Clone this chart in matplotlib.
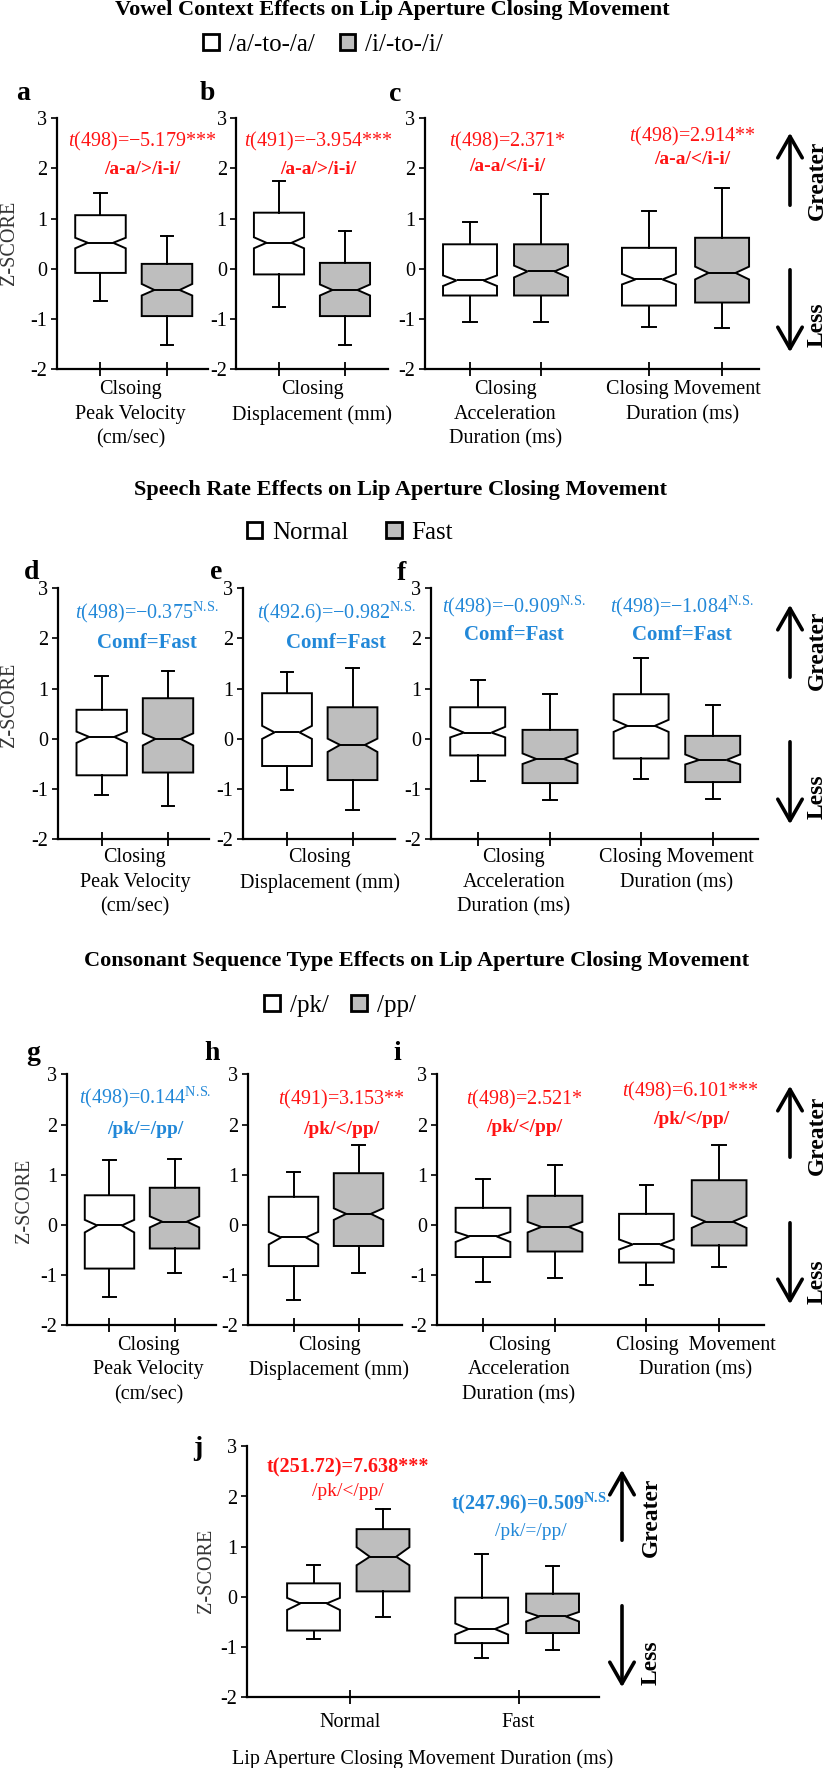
import matplotlib
matplotlib.use("Agg")
import matplotlib.pyplot as plt
from matplotlib.patches import Patch

plt.rcParams['font.family'] = ['Liberation Serif', 'DejaVu Serif']
plt.rcParams['mathtext.fontset'] = 'custom'
plt.rcParams['mathtext.rm'] = 'Liberation Serif'
plt.rcParams['mathtext.it'] = 'Liberation Serif:italic'
plt.rcParams['mathtext.bf'] = 'Liberation Serif:bold'
plt.rcParams['axes.unicode_minus'] = False

W, H = 827, 1768
RED = '#ff1414'
BLUE = '#2288d8'
GREY = '#bebebe'

# box stats (z-scores):
# whisker low, Q1, notch low, median, notch high, Q3, whisker high
a_box = [[-0.63, -0.08, 0.41, 0.52, 0.62, 1.07, 1.51],
         [-1.52, -0.94, -0.53, -0.42, -0.30, 0.10, 0.65]]
b_box = [[-0.76, -0.11, 0.41, 0.52, 0.63, 1.12, 1.75],
         [-1.52, -0.94, -0.53, -0.42, -0.31, 0.12, 0.76]]
c_box = [[-1.06, -0.53, -0.34, -0.23, -0.13, 0.49, 0.93],
         [-1.06, -0.53, -0.17, -0.05, 0.065, 0.49, 1.49],
         [-1.15, -0.73, -0.31, -0.21, -0.10, 0.42, 1.15],
         [-1.18, -0.67, -0.21, -0.08, 0.045, 0.62, 1.62]]
d_box = [[-1.12, -0.725, -0.08, 0.04, 0.145, 0.58, 1.25],
         [-1.33, -0.67, -0.13, 0.0, 0.11, 0.81, 1.36]]
e_box = [[-1.02, -0.54, 0.0, 0.13, 0.26, 0.91, 1.33],
         [-1.42, -0.82, -0.26, -0.12, 0.005, 0.63, 1.41]]
f_box = [[-0.83, -0.33, 0.03, 0.125, 0.24, 0.63, 1.18],
         [-1.22, -0.88, -0.50, -0.40, -0.29, 0.18, 0.89],
         [-0.80, -0.39, 0.14, 0.26, 0.38, 0.89, 1.62],
         [-1.20, -0.86, -0.51, -0.42, -0.31, 0.06, 0.68]]
g_box = [[-1.44, -0.87, -0.15, -0.01, 0.10, 0.59, 1.29],
         [-0.95, -0.47, -0.05, 0.065, 0.17, 0.74, 1.31]]
h_box = [[-1.50, -0.82, -0.39, -0.25, -0.14, 0.56, 1.05],
         [-0.95, -0.42, 0.10, 0.22, 0.33, 1.03, 1.60]]
i_box = [[-1.14, -0.64, -0.34, -0.23, -0.14, 0.34, 0.92],
         [-1.06, -0.53, -0.15, -0.04, 0.06, 0.58, 1.19],
         [-1.19, -0.75, -0.49, -0.39, -0.29, 0.22, 0.80],
         [-0.845, -0.41, -0.06, 0.065, 0.18, 0.89, 1.60]]
j_box = [[-0.84, -0.67, -0.26, -0.13, -0.02, 0.27, 0.64],
         [-0.41, 0.11, 0.63, 0.80, 0.99, 1.35, 1.76],
         [-1.22, -0.92, -0.75, -0.64, -0.53, -0.015, 0.85],
         [-1.06, -0.72, -0.49, -0.39, -0.30, 0.065, 0.62]]

a_labels = ["Clsoing\nPeak Velocity\n(cm/sec)"]
b_labels = ["Closing\nDisplacement (mm)"]
c_labels = ["Closing\nAcceleration\nDuration (ms)", "Closing Movement\nDuration (ms)"]
d_labels = ["Closing\nPeak Velocity\n(cm/sec)"]
e_labels = ["Closing\nDisplacement (mm)"]
f_labels = ["Closing\nAcceleration\nDuration (ms)", "Closing Movement\nDuration (ms)"]
g_labels = ["Closing\nPeak Velocity\n(cm/sec)"]
h_labels = ["Closing\nDisplacement (mm)"]
i_labels = ["Closing\nAcceleration\nDuration (ms)", "Closing  Movement\nDuration (ms)"]
j_labels = ["Normal", "Fast"]
ytick_labels = ['-2', '-1', '0', '1', '2', '3']

titles = ["Vowel Context Effects on Lip Aperture Closing Movement",
          "Speech Rate Effects on Lip Aperture Closing Movement",
          "Consonant Sequence Type Effects on Lip Aperture Closing Movement"]
legend_labels = [["/a/-to-/a/", "/i/-to-/i/"],
                 ["Normal", "Fast"],
                 ["/pk/", "/pp/"]]

T = r'$\mathit{t}$'
NS = r'$^{\mathrm{N.\!S.}}$'
a_test = [T + '(498)=−5.179***', '/a-a/>/i-i/']
b_test = [T + '(491)=−3.954***', '/a-a/>/i-i/']
c_test = [[T + '(498)=2.371*', '/a-a/</i-i/'], [T + '(498)=2.914**', '/a-a/</i-i/']]
d_test = [T + '(498)=−0.375' + NS, 'Comf=Fast']
e_test = [T + '(492.6)=−0.982' + NS, 'Comf=Fast']
f_test = [[T + '(498)=−0.909' + NS, 'Comf=Fast'], [T + '(498)=−1.084' + NS, 'Comf=Fast']]
g_test = [T + '(498)=0.144' + NS, '/pk/=/pp/']
h_test = [T + '(491)=3.153**', '/pk/</pp/']
i_test = [[T + '(498)=2.521*', '/pk/</pp/'], [T + '(498)=6.101***', '/pk/</pp/']]
j_test = [['t(251.72)=7.638***', '/pk/</pp/'],
          ['t(247.96)=0.509' + r'$^{\mathbf{N.\!S.}}$', '/pk/=/pp/']]


def fx(x):
    return x / W


def fy(y):
    return 1 - y / H


fig = plt.figure(figsize=(W / 100, H / 100), dpi=100)
fig.patch.set_facecolor('white')


def panel(rect, xlim, pos, boxes, groups, labels, pad, per_box_ticks=True):
    l, t, r, b = rect
    ax = fig.add_axes([fx(l), fy(b), (r - l) / W, (b - t) / H])
    stats = [dict(whislo=s[0], q1=s[1], cilo=s[2], med=s[3], cihi=s[4],
                  q3=s[5], whishi=s[6], fliers=[]) for s in boxes]
    bp = ax.bxp(stats, positions=pos, widths=0.76, capwidths=0.19,
                shownotches=True, patch_artist=True, showfliers=False,
                boxprops=dict(edgecolor='black', linewidth=1.4),
                medianprops=dict(color='black', linewidth=1.4),
                whiskerprops=dict(color='black', linewidth=1.4),
                capprops=dict(color='black', linewidth=1.4))
    for k, patch in enumerate(bp['boxes']):
        patch.set_facecolor('white' if k % 2 == 0 else GREY)
    ax.set_xlim(*xlim)
    ax.set_ylim(-2, 3)
    ax.set_yticks(range(-2, 4), labels=ytick_labels)
    ax.set_xticks(groups, labels=labels, linespacing=1.4)
    for s in ['top', 'right']:
        ax.spines[s].set_visible(False)
    for s in ['left', 'bottom']:
        ax.spines[s].set_linewidth(1.6)
    ax.tick_params(axis='y', direction='out', length=4, width=1.2, pad=3,
                   labelsize=14.5)
    if per_box_ticks:
        ax.set_xticks(pos, minor=True)
        ax.tick_params(axis='x', which='minor', direction='inout', length=10,
                       width=1.3)
        ax.tick_params(axis='x', which='major', length=0, pad=pad,
                       labelsize=14.5)
    else:
        ax.tick_params(axis='x', which='major', direction='inout', length=10,
                       width=1.3, pad=pad, labelsize=14.5)
    ax.set_facecolor('none')
    return ax


def stat_text(x, y1, y2, lines, color, bold_first=False, second_bold=True,
              size2=14):
    fig.text(fx(x), fy(y1), lines[0], color=color, fontsize=14.5,
             ha='center', va='baseline',
             fontweight='bold' if bold_first else 'normal')
    fig.text(fx(x), fy(y2), lines[1], color=color, fontsize=size2,
             ha='center', va='baseline',
             fontweight='bold' if second_bold else 'normal')


def greater_less(x_arrow, x_text, up, down, y_greater, y_less):
    for tail, head in (up, down):
        fig.add_artist(matplotlib.patches.FancyArrowPatch(
            (fx(x_arrow), fy(tail)), (fx(x_arrow), fy(head)),
            transform=fig.transFigure, arrowstyle='->,head_length=0.7,head_width=0.4',
            mutation_scale=22, linewidth=2.6, color='black'))
    fig.text(fx(x_text), fy(y_greater), 'Greater', rotation=90, fontsize=17,
             fontweight='bold', ha='center', va='center')
    fig.text(fx(x_text), fy(y_less), 'Less', rotation=90, fontsize=17,
             fontweight='bold', ha='center', va='center')


def legend(labels, xc, yc, gap):
    handles = [Patch(facecolor='white', edgecolor='black', linewidth=2),
               Patch(facecolor=GREY, edgecolor='black', linewidth=2)]
    fig.legend(handles, labels, loc='center', bbox_to_anchor=(fx(xc), fy(yc)),
               ncol=2, frameon=False, fontsize=18, handlelength=0.62,
               handleheight=0.62, handletextpad=0.4, columnspacing=gap,
               borderpad=0, borderaxespad=0)


def letter(x, y, s):
    fig.text(fx(x), fy(y), s, fontsize=20, fontweight='bold', ha='left',
             va='baseline')


def zscore(x, y):
    fig.text(fx(x), fy(y), 'Z-SCORE', rotation=90, fontsize=14.5, color='#333333',
             ha='center', va='center')


# ---- row 1: vowel context
fig.text(fx(392), fy(15), titles[0], fontsize=16, fontweight='bold',
         ha='center', va='baseline')
legend(legend_labels[0], 323, 45, 1.0)
panel((57, 118.3, 208, 369.3), (0.346, 2.617), [1, 2], a_box, [1.45], a_labels, 8)
panel((236.5, 118.3, 388, 369.3), (0.356, 2.652), [1, 2], b_box, [1.5], b_labels, 8)
panel((425, 118.3, 759, 369.3), (0.366, 5.07), [1, 2, 3.52, 4.55], c_box,
      [1.5, 4.0], c_labels, 8)
letter(16, 100, 'a'); letter(200, 100, 'b'); letter(389, 101, 'c')
zscore(9.5, 243)
stat_text(142.5, 146, 174, a_test, RED)
stat_text(318, 146, 174, b_test, RED)
stat_text(507.5, 146, 171, c_test[0], RED)
stat_text(692, 141, 164, c_test[1], RED)
greater_less(790, 817, (208, 130), (267, 355), 180, 325)

# ---- row 2: speech rate
fig.text(fx(400), fy(495), titles[1], fontsize=16, fontweight='bold',
         ha='center', va='baseline')
legend(legend_labels[1], 350, 533, 1.5)
panel((58, 588.3, 209, 839.3), (0.341, 2.618), [1, 2], d_box, [1.5], d_labels, 6.5)
panel((243, 588.3, 394.5, 839.3), (0.328, 2.641), [1, 2], e_box, [1.5], e_labels, 6.5)
panel((431, 588.3, 758.4, 839.3), (0.354, 4.882), [1, 2, 3.26, 4.25], f_box,
      [1.5, 3.75], f_labels, 6.5)
letter(24, 579, 'd'); letter(210, 579, 'e'); letter(397, 580, 'f')
zscore(9.5, 705)
stat_text(147, 618, 648, d_test, BLUE, size2=15)
stat_text(336, 618, 648, e_test, BLUE, size2=15)
stat_text(514, 612, 640, f_test[0], BLUE, size2=15)
stat_text(682, 612, 640, f_test[1], BLUE, size2=15)
greater_less(790, 817, (680, 602), (739, 827), 650, 797)

# ---- row 3: consonant sequence type
fig.text(fx(417), fy(966), titles[2], fontsize=16, fontweight='bold',
         ha='center', va='baseline')
legend(legend_labels[2], 340, 1006, 0.9)
panel((66.7, 1074.3, 216, 1325.3), (0.342, 2.638), [1, 2], g_box, [1.6], g_labels, 7.5)
panel((247.8, 1074.3, 402, 1325.3), (0.297, 2.669), [1, 2], h_box, [1.55], h_labels, 7.5)
panel((436.7, 1074.3, 763.7, 1325.3), (0.357, 4.899), [1, 2, 3.27, 4.28], i_box,
      [1.5, 3.95], i_labels, 7.5)
letter(26, 1060, 'g'); letter(204.6, 1060, 'h'); letter(393, 1060, 'i')
zscore(24, 1201)
stat_text(145, 1103, 1134, g_test, BLUE)
stat_text(341.5, 1104, 1134, h_test, RED)
stat_text(524, 1104, 1132, i_test[0], RED)
stat_text(691, 1096, 1124, i_test[1], RED)
greater_less(790, 817, (1160, 1083), (1220, 1307), 1135, 1282)

# ---- row 4: duration by rate and sequence type
ax_j = panel((247, 1446.3, 599, 1697.3), (0.043, 5.108), [1, 2, 3.42, 4.44], j_box,
             [1.525, 3.95], j_labels, 6, per_box_ticks=False)
ax_j.set_xlabel('Lip Aperture Closing Movement Duration (ms)', fontsize=14.5,
                labelpad=13)
letter(193, 1455, 'j')
zscore(206, 1571)
stat_text(347.5, 1472, 1496, j_test[0], RED, bold_first=True, second_bold=False)
stat_text(531, 1509, 1536, j_test[1], BLUE, bold_first=True, second_bold=False)
greater_less(622, 651, (1543, 1467), (1603, 1690), 1517, 1663)

fig.savefig('out.png', dpi=100)
